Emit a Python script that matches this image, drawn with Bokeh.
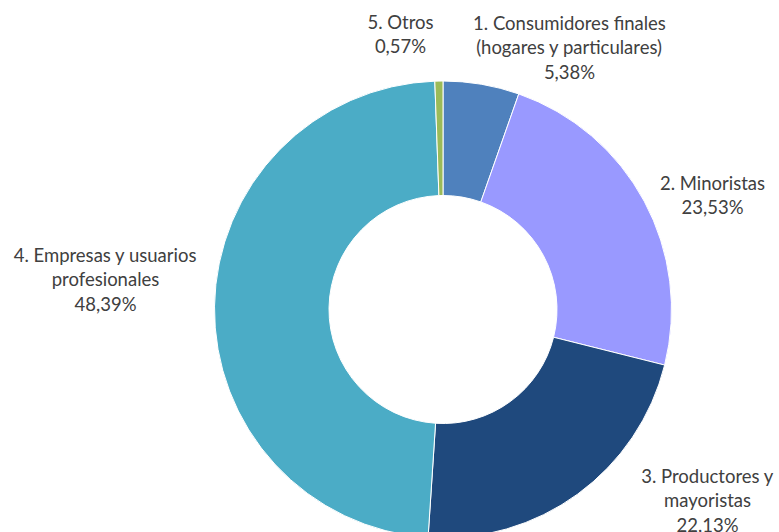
import math
from bokeh.plotting import figure
from bokeh.models import Range1d, ColumnDataSource
from bokeh.core.properties import value
from bokeh.embed import file_html
from bokeh.resources import INLINE

# ---- data ----
categories = [
    "1. Consumidores finales\n(hogares y particulares)",
    "2. Minoristas",
    "3. Productores y\nmayoristas",
    "4. Empresas y usuarios\nprofesionales",
    "5. Otros",
]
shares = [5.38, 23.53, 22.13, 48.39, 0.57]
colors = ["#4F81BD", "#9999FF", "#1F497D", "#4BACC6", "#9BBB59"]

# ---- layout (screen pixels) ----
W, H = 779, 532
cx, cy = 442.5, 309.0
r_out, r_in = 228.5, 114.0
# label anchor (center of first line) per category
label_pos = [(569, 22), (712, 182), (707, 475), (105, 254), (400, 21)]
line_h = 24.5

p = figure(width=W, height=H, output_backend="svg", toolbar_location=None,
           x_range=Range1d(0, W), y_range=Range1d(-H, 0),
           min_border=0, background_fill_color="white", border_fill_color="white")
p.axis.visible = False
p.xgrid.visible = False
p.ygrid.visible = False
p.outline_line_color = None

total = sum(shares)
starts, ends = [], []
acc = 0.0
for s in shares:
    a0 = math.pi / 2 - 2 * math.pi * acc / total
    acc += s
    a1 = math.pi / 2 - 2 * math.pi * acc / total
    starts.append(a1)
    ends.append(a0)

src = ColumnDataSource(dict(x=[cx] * len(shares), y=[-cy] * len(shares),
                            start=starts, end=ends, color=colors))
p.annular_wedge(x="x", y="y", inner_radius=r_in, outer_radius=r_out,
                start_angle="start", end_angle="end", direction="anticlock",
                fill_color="color", line_color="white", line_width=1, source=src)

tx, ty, tt = [], [], []
for cat, val, (lx, ly) in zip(categories, shares, label_pos):
    lines = cat.split("\n") + [f"{val:.2f}".replace(".", ",") + "%"]
    for i, ln in enumerate(lines):
        tx.append(lx)
        ty.append(-(ly + i * line_h))
        tt.append(ln)

p.text(x=tx, y=ty, text=tt, text_align="center", text_baseline="middle",
       text_font=value("Lato"), text_font_size="18.5px", text_color="#404040")

open("out.html", "w").write(file_html(p, INLINE))
